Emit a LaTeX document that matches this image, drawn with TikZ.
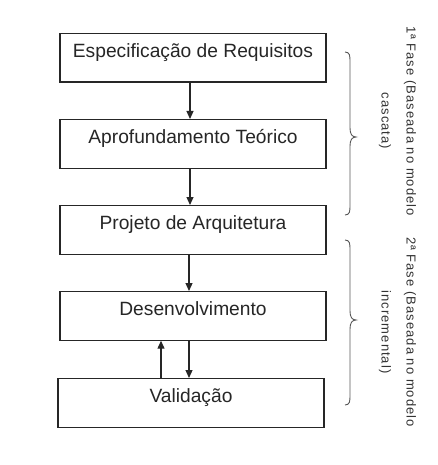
\documentclass[tikz,border=0pt]{standalone}
\usepackage{fontspec}
\setmainfont{Liberation Sans}
\newfontfamily\sidefont[LetterSpace=8]{Liberation Sans}
\usetikzlibrary{arrows.meta}
\begin{document}
\begin{tikzpicture}[x=1pt,y=-1pt,
  box/.style={draw=black!85, line width=1.2pt, minimum width=266pt,
    inner xsep=0pt, inner ysep=0pt, text height=24pt, text depth=24.5pt,
    font=\fontsize{19.2}{23}\selectfont, text=black!85, anchor=north},
  arr/.style={draw=black!85, line width=1.2pt, -{Triangle[length=8pt,width=7pt]}},
  brc/.style={draw=black!65, line width=0.9pt},
  side/.style={align=center, inner sep=0pt, rotate=-90,
    font=\sidefont\fontsize{13}{25}\selectfont, text=black!80}]
\fill[white] (0,0) rectangle (438,465);
\useasboundingbox (0,0) rectangle (438,465);

\node[box] (b1) at (193,33) {Especificação de Requisitos};
\node[box] (b2) at (193,119) {Aprofundamento Teórico};
\node[box] (b3) at (193,205) {Projeto de Arquitetura};
\node[box] (b4) at (193,291) {Desenvolvimento};
\node[box] (b5) at (191,378) {Validação};

\draw[arr] ([xshift=-3pt]b1.south) -- ([xshift=-3pt]b2.north);
\draw[arr] ([xshift=-3pt]b2.south) -- ([xshift=-3pt]b3.north);
\draw[arr] ([xshift=-4pt]b3.south) -- ([xshift=-4pt]b4.north);
\draw[arr] ([xshift=-4pt]b4.south) -- ([xshift=-2pt]b5.north);
\draw[arr] ([xshift=-30pt]b5.north) -- ([xshift=-32pt]b4.south);

% braces
\draw[brc] (345,52) .. controls (350,52) and (350,56) .. (350,62) -- (350,128)
  .. controls (350,134) and (352,137) .. (356,137)
  .. controls (352,137) and (350,140) .. (350,146) -- (350,205)
  .. controls (350,211) and (350,215) .. (345,215);
\draw[brc] (345,240) .. controls (350,240) and (350,244) .. (350,250) -- (350,311)
  .. controls (350,317) and (352,320) .. (356,320)
  .. controls (352,320) and (350,323) .. (350,329) -- (350,395)
  .. controls (350,401) and (350,405) .. (345,405);

\node[side] (t1) at (397.6,121) {1ª Fase (Baseada no modelo\\cascata)};
\node[side] (t2) at (397.6,332) {2ª Fase (Baseada no modelo\\incremental)};
\end{tikzpicture}
\end{document}
